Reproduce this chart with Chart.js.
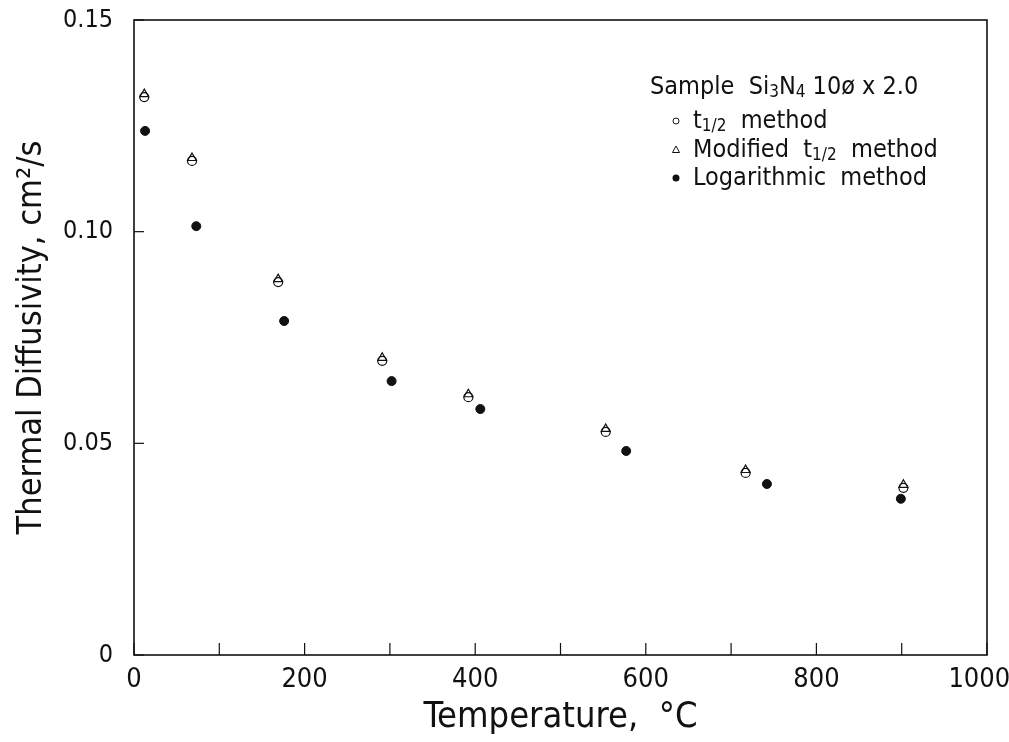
<!DOCTYPE html>
<html>
<head>
<meta charset="utf-8">
<script src="https://cdn.jsdelivr.net/npm/chart.js@4/dist/chart.umd.min.js"></script>
<style>
  html, body { margin: 0; padding: 0; background: #fff; }
  #wrap { width: 1009px; height: 742px; position: relative; }
</style>
</head>
<body>
<div id="wrap"><canvas id="c"></canvas></div>
<script>
// ---- data ----
const tempHalf = [12, 68, 169, 291, 392, 553, 717, 902];           // °C, t1/2 and modified t1/2
const diffHalf = [0.1318, 0.1167, 0.0881, 0.0695, 0.0609, 0.0527, 0.0430, 0.0395];
const diffModified = [0.1325, 0.1174, 0.0888, 0.0702, 0.0616, 0.0534, 0.0437, 0.0402];
const tempLog = [13, 73, 176, 302, 406, 577, 742, 899];            // °C, logarithmic
const diffLog = [0.1238, 0.1013, 0.0789, 0.0647, 0.0581, 0.0482, 0.0404, 0.0369];
const xTickLabels = ['0', '200', '400', '600', '800', '1000  '];
const yTickLabels = ['0', '0.05', '0.10', '0.15'];

const FONT = "'Liberation Sans Narrow', 'DejaVu Sans Condensed', 'Liberation Sans', sans-serif";
const INK = '#111';

function pts(xs, ys) { return xs.map((x, i) => ({ x: x, y: ys[i] })); }

const framePlugin = {
  id: 'frame',
  beforeInit(chart) { chart.ctx.letterSpacing = '1px'; },
  afterDraw(chart) {
    const ctx = chart.ctx, a = chart.chartArea;
    ctx.save();
    ctx.strokeStyle = INK;
    ctx.lineWidth = 1.6;
    ctx.strokeRect(a.left, a.top, a.right - a.left, a.bottom - a.top);
    // inward ticks
    ctx.lineWidth = 1.2;
    chart.scales.x.ticks.forEach(t => {
      const px = chart.scales.x.getPixelForValue(t.value);
      ctx.beginPath(); ctx.moveTo(px, a.bottom); ctx.lineTo(px, a.bottom - 12); ctx.stroke();
    });
    chart.scales.y.ticks.forEach(t => {
      const py = chart.scales.y.getPixelForValue(t.value);
      ctx.beginPath(); ctx.moveTo(a.left, py); ctx.lineTo(a.left + 10, py); ctx.stroke();
    });
    // legend
    const lx = a.right - 337, ex = a.right - 294, mx = a.right - 311;
    const ly = [a.top + 67, a.top + 101, a.top + 130, a.top + 158];
    ctx.fillStyle = INK;
    ctx.textBaseline = 'middle';
    ctx.textAlign = 'left';
    const rich = (x, y, segs) => {
      segs.forEach(s => {
        ctx.font = (s.sub ? '17px ' : '25px ') + FONT;
        ctx.fillText(s.t, x, y + (s.sub ? 6 : 0));
        x += ctx.measureText(s.t).width;
      });
    };
    rich(lx, ly[0], [{t: 'Sample  Si'}, {t: '3', sub: 1}, {t: 'N'}, {t: '4', sub: 1}, {t: ' 10ø x 2.0'}]);
    rich(ex, ly[1], [{t: 't'}, {t: '1/2', sub: 1}, {t: '  method'}]);
    rich(ex, ly[2], [{t: 'Modified  t'}, {t: '1/2', sub: 1}, {t: '  method'}]);
    rich(ex, ly[3], [{t: 'Logarithmic  method'}]);
    ctx.lineWidth = 1;
    ctx.strokeStyle = INK;
    ctx.beginPath(); ctx.arc(mx, ly[1], 3, 0, Math.PI * 2); ctx.stroke();
    ctx.beginPath();
    ctx.moveTo(mx, ly[2] - 4); ctx.lineTo(mx + 3.5, ly[2] + 2.5); ctx.lineTo(mx - 3.5, ly[2] + 2.5); ctx.closePath(); ctx.stroke();
    ctx.beginPath(); ctx.arc(mx, ly[3], 3.5, 0, Math.PI * 2); ctx.fill();
    ctx.restore();
  }
};

new Chart(document.getElementById('c'), {
  type: 'scatter',
  data: {
    datasets: [
      { label: 't1/2 method', data: pts(tempHalf, diffHalf), pointStyle: 'circle', pointRadius: 4.5,
        borderColor: INK, backgroundColor: 'rgba(0,0,0,0)', borderWidth: 1.2 },
      { label: 'Modified t1/2 method', data: pts(tempHalf, diffModified), pointStyle: 'triangle', pointRadius: 5,
        borderColor: INK, backgroundColor: 'rgba(0,0,0,0)', borderWidth: 1.2 },
      { label: 'Logarithmic method', data: pts(tempLog, diffLog), pointStyle: 'circle', pointRadius: 4.5,
        borderColor: INK, backgroundColor: INK, borderWidth: 1 }
    ]
  },
  options: {
    responsive: true,
    maintainAspectRatio: false,
    animation: false,
    layout: { padding: { left: 12, top: 20, right: 22, bottom: 3 } },
    plugins: { legend: { display: false }, tooltip: { enabled: false } },
    scales: {
      x: {
        type: 'linear', min: 0, max: 1000,
        grid: { display: false, drawTicks: false },
        border: { display: false },
        ticks: {
          stepSize: 100, padding: 9, color: INK, maxRotation: 0, autoSkip: false,
          font: { family: FONT, size: 27 },
          callback: v => (v % 200 === 0 ? xTickLabels[v / 200] : '')
        },
        title: { display: true, text: 'Temperature,  °C', color: INK,
          font: { family: FONT, size: 36 }, padding: { top: 0, bottom: 0 } },
        afterFit: s => { s.height = 84; s.paddingLeft = 0; s.paddingRight = 0; }
      },
      y: {
        type: 'linear', min: 0, max: 0.15,
        grid: { display: false, drawTicks: false },
        border: { display: false },
        ticks: {
          stepSize: 0.05, padding: 21, color: INK,
          font: { family: FONT, size: 25 },
          callback: v => yTickLabels[Math.round(v / 0.05)]
        },
        title: { display: true, text: 'Thermal Diffusivity, cm²/s', color: INK,
          font: { family: FONT, size: 34 }, padding: { top: 0, bottom: 0 } },
        afterFit: s => { s.width = 122; s.paddingTop = 0; s.paddingBottom = 0; }
      }
    }
  },
  plugins: [framePlugin]
});
</script>
</body>
</html>
